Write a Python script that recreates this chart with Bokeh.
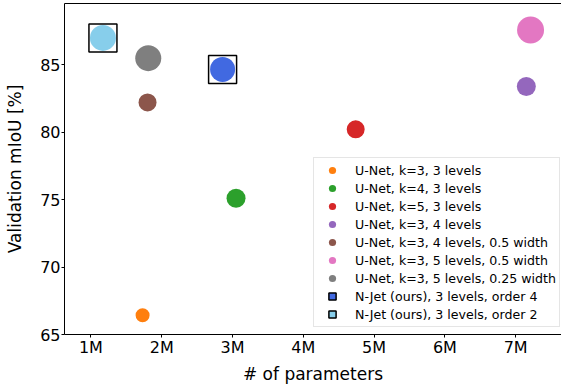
from bokeh.plotting import figure
from bokeh.models import Range1d, FixedTicker, LinearAxis, Legend, LegendItem
from bokeh.embed import file_html
from bokeh.resources import INLINE

# ---- data ----
labels = [
    "U-Net, k=3, 3 levels",
    "U-Net, k=4, 3 levels",
    "U-Net, k=5, 3 levels",
    "U-Net, k=3, 4 levels",
    "U-Net, k=3, 4 levels, 0.5 width",
    "U-Net, k=3, 5 levels, 0.5 width",
    "U-Net, k=3, 5 levels, 0.25 width",
    "N-Jet (ours), 3 levels, order 4",
    "N-Jet (ours), 3 levels, order 2",
]
params_millions = [1.73, 3.05, 4.74, 7.15, 1.80, 7.21, 1.81, 2.86, 1.17]
val_miou = [66.43, 75.10, 80.20, 83.37, 82.19, 87.56, 85.47, 84.64, 86.97]
is_njet = [False, False, False, False, False, False, False, True, True]

x_tick_values = [1, 2, 3, 4, 5, 6, 7]
x_tick_labels = ["1M", "2M", "3M", "4M", "5M", "6M", "7M"]
y_tick_values = [65, 70, 75, 80, 85]

# ---- styles ----
colors = ["#ff7f0e", "#2ca02c", "#d62728", "#9467bd", "#8c564b",
          "#e377c2", "#7f7f7f", "#4169e1", "#87ceeb"]
marker_sizes = [14, 19, 18, 19, 18, 27, 26, 25, 26]
FONT = "DejaVu Sans"

p = figure(width=561, height=386,
           x_range=Range1d(0.627, 7.647), y_range=Range1d(65, 89.52),
           output_backend="svg", toolbar_location=None,
           min_border_left=64, min_border_right=0, min_border_top=3,
           min_border_bottom=0)
p.outline_line_color = None
p.xgrid.grid_line_color = None
p.ygrid.grid_line_color = None
p.background_fill_color = "white"
p.border_fill_color = "white"

for ax in (p.xaxis[0], p.yaxis[0]):
    ax.axis_line_color = "black"
    ax.axis_line_width = 1
    ax.major_tick_line_color = "black"
    ax.major_tick_out = 3
    ax.major_tick_in = 0
    ax.minor_tick_out = 0
    ax.minor_tick_in = 0
    ax.major_label_text_font = FONT
    ax.major_label_text_font_size = "16px"
    ax.major_label_text_color = "black"
    ax.axis_label_text_font = FONT
    ax.axis_label_text_font_size = "17px"
    ax.axis_label_text_font_style = "normal"
    ax.axis_label_text_color = "black"

p.xaxis[0].ticker = FixedTicker(ticks=x_tick_values)
p.xaxis[0].major_label_overrides = {v: t for v, t in zip(x_tick_values, x_tick_labels)}
p.xaxis[0].axis_label = "# of parameters"
p.xaxis[0].major_label_standoff = 0
p.xaxis[0].axis_label_standoff = 4
p.yaxis[0].ticker = FixedTicker(ticks=y_tick_values)
p.yaxis[0].axis_label = "Validation mIoU [%]"
p.yaxis[0].major_label_standoff = 1
p.yaxis[0].axis_label_standoff = 12

top_axis = LinearAxis(ticker=FixedTicker(ticks=[]), major_label_text_font_size="0px",
                      major_tick_out=0, major_tick_in=0, minor_tick_out=0, minor_tick_in=0,
                      major_label_standoff=0, axis_label_standoff=0,
                      axis_line_color="black", axis_line_width=1)
p.add_layout(top_axis, "above")

items = []
for i, lab in enumerate(labels):
    x = [params_millions[i]]
    y = [val_miou[i]]
    if is_njet[i]:
        p.scatter(x, y, marker="square", size=28, fill_color=None,
                  line_color="black", line_width=1.5)
        p.scatter(x, y, marker="circle", size=marker_sizes[i],
                  fill_color=colors[i], line_color=None)
        leg_r = p.scatter(x, y, marker="square", size=0, fill_color=colors[i],
                          line_color="black", line_width=1.5)
    else:
        leg_r = p.scatter(x, y, marker="circle", size=marker_sizes[i],
                          fill_color=colors[i], line_color=None)
    items.append(LegendItem(label=lab, renderers=[leg_r]))

legend = Legend(items=items, location=(249, 7), padding=3, margin=0, spacing=0,
                glyph_width=30, glyph_height=18, label_height=18, label_standoff=8,
                label_text_font=FONT, label_text_font_size="12.6px",
                label_text_color="black",
                border_line_color="#cccccc", border_line_width=1,
                background_fill_color="white", background_fill_alpha=0.8)
p.add_layout(legend)

open("out.html", "w").write(file_html(p, INLINE))
